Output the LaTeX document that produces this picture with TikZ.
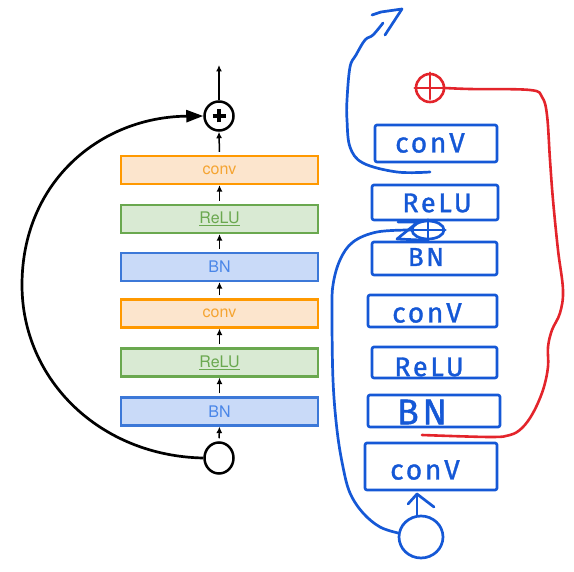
\documentclass[tikz,border=0pt]{standalone}
\usepackage{fontspec}
\setmainfont{TeX Gyre Heros}
\newfontfamily\handfont[LetterSpace=10,FakeBold=1.2]{Fira Sans}
\usetikzlibrary{arrows.meta,shapes.geometric}
\definecolor{convD}{HTML}{FF9900}
\definecolor{convF}{HTML}{FCE5CD}
\definecolor{convT}{HTML}{F5A431}
\definecolor{bnD}{HTML}{3C78D8}
\definecolor{bnF}{HTML}{C9DAF8}
\definecolor{bnT}{HTML}{4A86E8}
\definecolor{reluD}{HTML}{6AA84F}
\definecolor{reluF}{HTML}{D9EAD3}
\definecolor{reluT}{HTML}{6AA84F}
\definecolor{pen}{HTML}{1558D6}
\definecolor{redpen}{HTML}{E3242B}
\begin{document}
\begin{tikzpicture}[x=1pt,y=-1pt,
  layer/.style={draw, line width=2.2pt, minimum width=197pt, minimum height=28pt, inner sep=0pt,
    font=\fontsize{16}{18}\selectfont},
  convL/.style={layer, draw=convD, fill=convF, text=convT},
  bnL/.style={layer, draw=bnD, fill=bnF, text=bnT},
  reluL/.style={layer, draw=reluD, fill=reluF, text=reluT},
  sarrow/.style={-{Latex[length=6.5pt,width=6pt]}, line width=1.5pt, shorten <=3pt},
  skiparrow/.style={-{Triangle[length=17pt,width=12pt]}, line width=2.7pt},
  hpen/.style={draw=pen, line width=2.7pt, line cap=round, line join=round},
  rpen/.style={draw=redpen, line width=2.6pt, line cap=round, line join=round},
  hbox/.style={hpen, rounded corners=2pt, inner sep=0pt},
  htext/.style={text=pen, inner sep=0pt}
]
\useasboundingbox (0,0) rectangle (574,572);

% ---------- left: clean diagram ----------
\node[bnL]   (bn1)   at (219.5,411.5) {BN};
\node[reluL] (relu1) at (219.5,362.5) {\underline{ReLU}};
\node[convL] (conv1) at (219.5,313.5) {conv};
\node[bnL]   (bn2)   at (219.5,267)   {BN};
\node[reluL] (relu2) at (219.5,219)   {\underline{ReLU}};
\node[convL] (conv2) at (219.5,170)   {conv};
\node[circle, draw, line width=2.5pt, minimum size=29pt, inner sep=0pt] (plus) at (219,116) {};
\draw[line width=3.4pt] ([xshift=-6.5pt]plus.center) -- ([xshift=6.5pt]plus.center)
                        ([yshift=-6.5pt]plus.center) -- ([yshift=6.5pt]plus.center);
\node[ellipse, draw, line width=2.5pt, fill=white, minimum width=29pt, minimum height=31pt, inner sep=0pt] (in) at (219,458) {};
\coordinate (out) at (219,65);

\draw[sarrow] (in.north) -- (bn1.south);
\draw[sarrow] (bn1.north) -- (relu1.south);
\draw[sarrow] (relu1.north) -- (conv1.south);
\draw[sarrow] (conv1.north) -- (bn2.south);
\draw[sarrow] (bn2.north) -- (relu2.south);
\draw[sarrow] (relu2.north) -- (conv2.south);
\draw[sarrow] (conv2.north) -- (plus.south);
\draw[sarrow, shorten <=0pt] (plus.north) -- (out);
\draw[skiparrow] (in.west) .. controls (100,456) and (22,380) .. (22,285)
                 .. controls (22,182) and (100,117) .. (plus.west);

% ---------- right: hand sketch ----------
\node[hbox, minimum width=122pt, minimum height=37pt] (r1) at (436,143.5) {};
\node[hbox, minimum width=126pt, minimum height=35pt] (r2) at (435,202.5) {};
\node[hbox, minimum width=125pt, minimum height=33pt] (r3) at (434.5,258.5) {};
\node[hbox, minimum width=129pt, minimum height=32pt] (r4) at (432.5,311) {};
\node[hbox, minimum width=125pt, minimum height=31pt] (r5) at (434.5,362.5) {};
\node[hbox, minimum width=132pt, minimum height=32pt] (r6) at (434,411) {};
\node[hbox, minimum width=132pt, minimum height=47pt] (r7) at (431,466.5) {};

\node[htext, font=\handfont\fontsize{28}{30}\selectfont] (t1) at (430,143) {conV};
\node[htext, font=\handfont\fontsize{27}{30}\selectfont] (t2) at (437,203) {ReLU};
\node[htext, font=\handfont\fontsize{26}{30}\selectfont] (t3) at (426,257) {BN};
\node[htext, font=\handfont\fontsize{28}{30}\selectfont] (t4) at (427,313) {conV};
\node[htext, font=\handfont\fontsize{27}{30}\selectfont] (t5) at (429,367) {ReLU};
\node[htext, font=\handfont\fontsize{36}{38}\selectfont] (t6) at (422,412) {BN};
\node[htext, font=\handfont\fontsize{28}{30}\selectfont] (t7) at (425,470) {conV};

% input circle and arrow
\node[ellipse, hpen, minimum width=44pt, minimum height=42pt, inner sep=0pt] (hin) at (421,537) {};
\draw[hpen] (hin.north) ++(-4,0) coordinate (ha) -- (417,494);
\draw[hpen] (408,504) -- (417,494) -- (434,507);

% blue skip line up the left side to the scribbled plus
\node[ellipse, hpen, minimum width=32pt, minimum height=18pt, inner sep=0pt] (scrib) at (428,230) {};
\draw[hpen] (scrib.north) -- (scrib.south) (scrib.west) -- (scrib.east);
\draw[hpen] (398,222) -- (418,222) -- (397,239) -- (scrib.south);
\draw[hpen] plot[smooth, tension=0.6] coordinates {(hin.170) (380,527) (363,513) (350,493) (343,467)
  (337,430) (333,380) (332,313) (333,285) (340,260) (353,242) (377,232) (scrib.west)};

% blue output arrow
\coordinate (hout) at (402,9);
\draw[hpen] plot[smooth, tension=0.6] coordinates {(430,172) (397,172) (363,163) (350,147) (347,120)
  (347,100) (350,67) (356,55) (365,40) (373,35) (383,23)};
\draw[hpen] (372,15) -- (381,12) -- (hout) -- (385,35);

% red plus and its skip line
\node[circle, rpen, minimum size=28pt, inner sep=0pt] (rplus) at (430,88) {};
\draw[rpen] (rplus.north) -- (430,99) (rplus.west) -- (rplus.east);
\coordinate (rend) at (422,435);
\draw[rpen] plot[smooth, tension=0.6] coordinates {(rplus.east) (470,89) (530,90) (542,97) (547,115)
  (550,160) (553,200) (558,250) (563,290) (560,313) (552,330) (548,347) (548,367) (543,390)
  (533,413) (522,428) (510,435) (490,437) (rend)};
\end{tikzpicture}
\end{document}
